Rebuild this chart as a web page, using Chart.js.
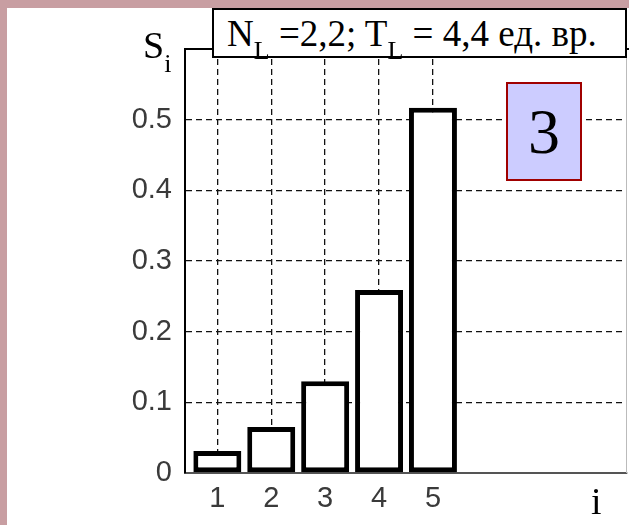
<!DOCTYPE html>
<html lang="ru">
<head>
<meta charset="UTF-8">
<title>S_i</title>
<script src="https://cdn.jsdelivr.net/npm/chart.js"></script>
<style>
  body { margin: 0; }
  #wrap { position: relative; width: 629px; height: 525px; background: #c89ea2; overflow: hidden; }
  #panel { position: absolute; left: 7px; top: 8px; right: 0; bottom: 0; background: #fff; }
  #grafico { position: absolute; left: 0; top: 0; }
  .serif { font-family: "Liberation Serif", "Times New Roman", serif; color: #000; position: absolute; white-space: nowrap; }
  #titulo { left: 212px; top: 8px; width: 398px; height: 46px; border: 2px solid #000; background: #fff;
            font-size: 37px; line-height: 37px; padding-left: 13px; box-sizing: content-box; }
  #titulo .txt { position: absolute; left: 13px; top: 5px; }
  #titulo .sub { font-size: 26px; position: relative; top: 13px; }
  #caja { left: 506px; top: 82px; width: 72px; height: 95px; border: 2px solid #a00000; background: #ccccff;
          font-size: 64px; line-height: 95px; text-align: center; }
  #ylab { left: 143px; top: 26px; font-size: 38px; line-height: 38px; }
  #ylab .sub { font-size: 26px; position: relative; top: 14px; }
  #xlab { left: 591px; top: 482px; font-size: 38px; line-height: 38px; }
</style>
</head>
<body>
<div id="wrap">
  <div id="panel"></div>
  <canvas id="grafico" width="629" height="525"></canvas>
  <div id="ylab" class="serif">S<span class="sub">i</span></div>
  <div id="xlab" class="serif">i</div>
  <div id="titulo" class="serif"><span class="txt">N<span class="sub">L</span> =2,2; T<span class="sub">L</span> = 4,4 ед. вр.</span></div>
  <div id="caja" class="serif">3</div>
</div>

<script>
// номера состояний и вероятности S_i
const indices = [1, 2, 3, 4, 5];
const valoresS = [0.031, 0.065, 0.130, 0.259, 0.517];
const ticksY = [0, 0.1, 0.2, 0.3, 0.4, 0.5];

const fuenteTicks = { family: '"Liberation Sans", Arial, sans-serif', size: 29 };

// рамка сверху и справа от области графика
const marco = {
    id: 'marco',
    afterDraw(chart) {
        const { ctx, chartArea: a } = chart;
        ctx.save();
        ctx.strokeStyle = '#000';
        ctx.lineWidth = 2;
        ctx.beginPath();
        ctx.moveTo(a.left, a.top);
        ctx.lineTo(a.right + 2, a.top);
        ctx.stroke();
        ctx.strokeStyle = '#bbb';
        ctx.lineWidth = 1;
        ctx.beginPath();
        ctx.moveTo(a.right - 0.5, a.top);
        ctx.lineTo(a.right - 0.5, a.bottom);
        ctx.stroke();
        ctx.restore();
    }
};

const ctx = document.getElementById('grafico').getContext('2d');
new Chart(ctx, {
    type: 'bar',
    data: {
        datasets: [{
            data: indices.map((x, k) => ({ x: x, y: valoresS[k] })),
            backgroundColor: '#fff',
            borderColor: '#000',
            borderWidth: 5,
            borderSkipped: false,
            barPercentage: 0.89,
            categoryPercentage: 1
        }]
    },
    options: {
        responsive: false,
        animation: false,
        layout: { padding: { top: 49, right: 2, left: 0, bottom: 0 } },
        plugins: { legend: { display: false }, tooltip: { enabled: false } },
        scales: {
            x: {
                type: 'linear',
                min: 0.4,
                max: 8.6,
                offset: false,
                afterBuildTicks: s => { s.ticks = indices.map(v => ({ value: v })); },
                afterFit: s => { s.height = 52; },
                grid: { offset: false, color: '#111', lineWidth: 1.3, drawTicks: false },
                border: { color: '#555', width: 2, dash: [6, 4] },
                ticks: { font: fuenteTicks, color: '#3a3a3a', padding: 9, maxRotation: 0 }
            },
            y: {
                min: 0,
                max: 0.6,
                afterBuildTicks: s => { s.ticks = ticksY.map(v => ({ value: v })); },
                afterFit: s => { s.width = 185; },
                grid: { color: '#111', lineWidth: 1.3, drawTicks: false },
                border: { color: '#000', width: 2, dash: [6, 4] },
                ticks: {
                    font: fuenteTicks, color: '#3a3a3a', padding: 13,
                    callback: v => v === 0 ? '0' : v.toFixed(1)
                }
            }
        }
    },
    plugins: [marco]
});
</script>
</body>
</html>
